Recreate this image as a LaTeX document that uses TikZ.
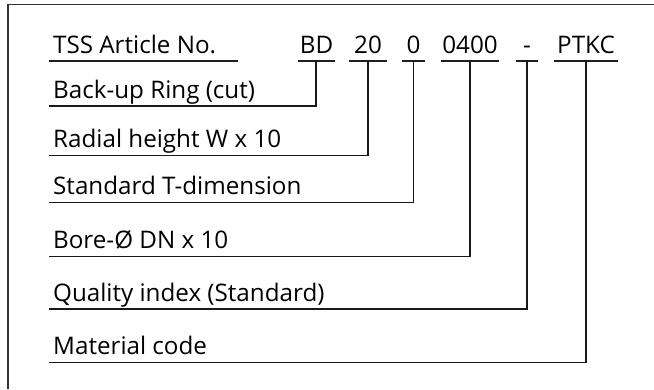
\documentclass[tikz,border=0pt]{standalone}
\usepackage{fontspec}
\setmainfont{Open Sans}
\begin{document}
\begin{tikzpicture}[x=1pt,y=-1pt,
  lbl/.style={anchor=base west,inner sep=0pt,font=\fontsize{24.2}{28}\selectfont},
  code/.style={anchor=base,inner sep=0pt,font=\fontsize{24.2}{28}\selectfont},
  uline/.style={line width=1.1pt,color=black!88},
  conn/.style={line width=1.3pt,color=black!90},
  frame/.style={line width=1.2pt,color=black!80}]
\useasboundingbox (0,0) rectangle (654,389);
% frame
\coordinate (ftr) at (654,4.6);
\coordinate (ftl) at (8,4.6);
\coordinate (fbl) at (8,389);
\draw[frame] (ftr) -- (ftl) -- (fbl);
% header
\node[lbl] (tss) at (53,53.3) {TSS Article No.};
\coordinate (tssa) at (49,61);
\coordinate (tssb) at (238,61);
\draw[uline] (tssa) -- (tssb);
% codes
\node[code] (bd) at (316.5,53.3) {BD};
\node[code] (w) at (368,53.3) {20};
\node[code] (t) at (413.5,53.3) {0};
\node[code] (dn) at (470,53.3) {0400};
\node[code] (q) at (527,53.3) {-};
\node[code] (m) at (586,53.3) {PTKC};
\coordinate (bda) at (298,61); \coordinate (bdb) at (335,61); \coordinate (bdc) at (316,61);
\coordinate (wa) at (349,61); \coordinate (wb) at (387,61); \coordinate (wc) at (368,61);
\coordinate (ta) at (402,61); \coordinate (tb) at (425,61); \coordinate (tc) at (413.5,61);
\coordinate (dna) at (441,61); \coordinate (dnb) at (499,61); \coordinate (dnc) at (470,61);
\coordinate (qa) at (516,61); \coordinate (qb) at (538,61); \coordinate (qc) at (527,61);
\coordinate (ma) at (554,61); \coordinate (mb) at (618,61); \coordinate (mc) at (586,61);
\foreach \c in {bd,w,t,dn,q,m}{\draw[uline] (\c a) -- (\c b);}
% rows
\node[lbl] (r1) at (53,98) {Back-up Ring (cut)};
\node[lbl] (r2) at (53,147.7) {Radial height W x 10};
\node[lbl] (r3) at (53,194.7) {Standard T-dimension};
\node[lbl] (r4) at (53,248.7) {Bore-Ø DN x 10};
\node[lbl] (r5) at (53,301) {Quality index (Standard)};
\node[lbl] (r6) at (53,354.3) {Material code};
\coordinate (l1) at (49,106);
\coordinate (l2) at (49,155.7);
\coordinate (l3) at (49,202.7);
\coordinate (l4) at (49,256.7);
\coordinate (l5) at (49,309);
\coordinate (l6) at (49,362.3);
\draw[conn] (bdc) |- (l1);
\draw[conn] (wc) |- (l2);
\draw[conn] (tc) |- (l3);
\draw[conn] (dnc) |- (l4);
\draw[conn] (qc) |- (l5);
\draw[conn] (mc) |- (l6);
\end{tikzpicture}
\end{document}
